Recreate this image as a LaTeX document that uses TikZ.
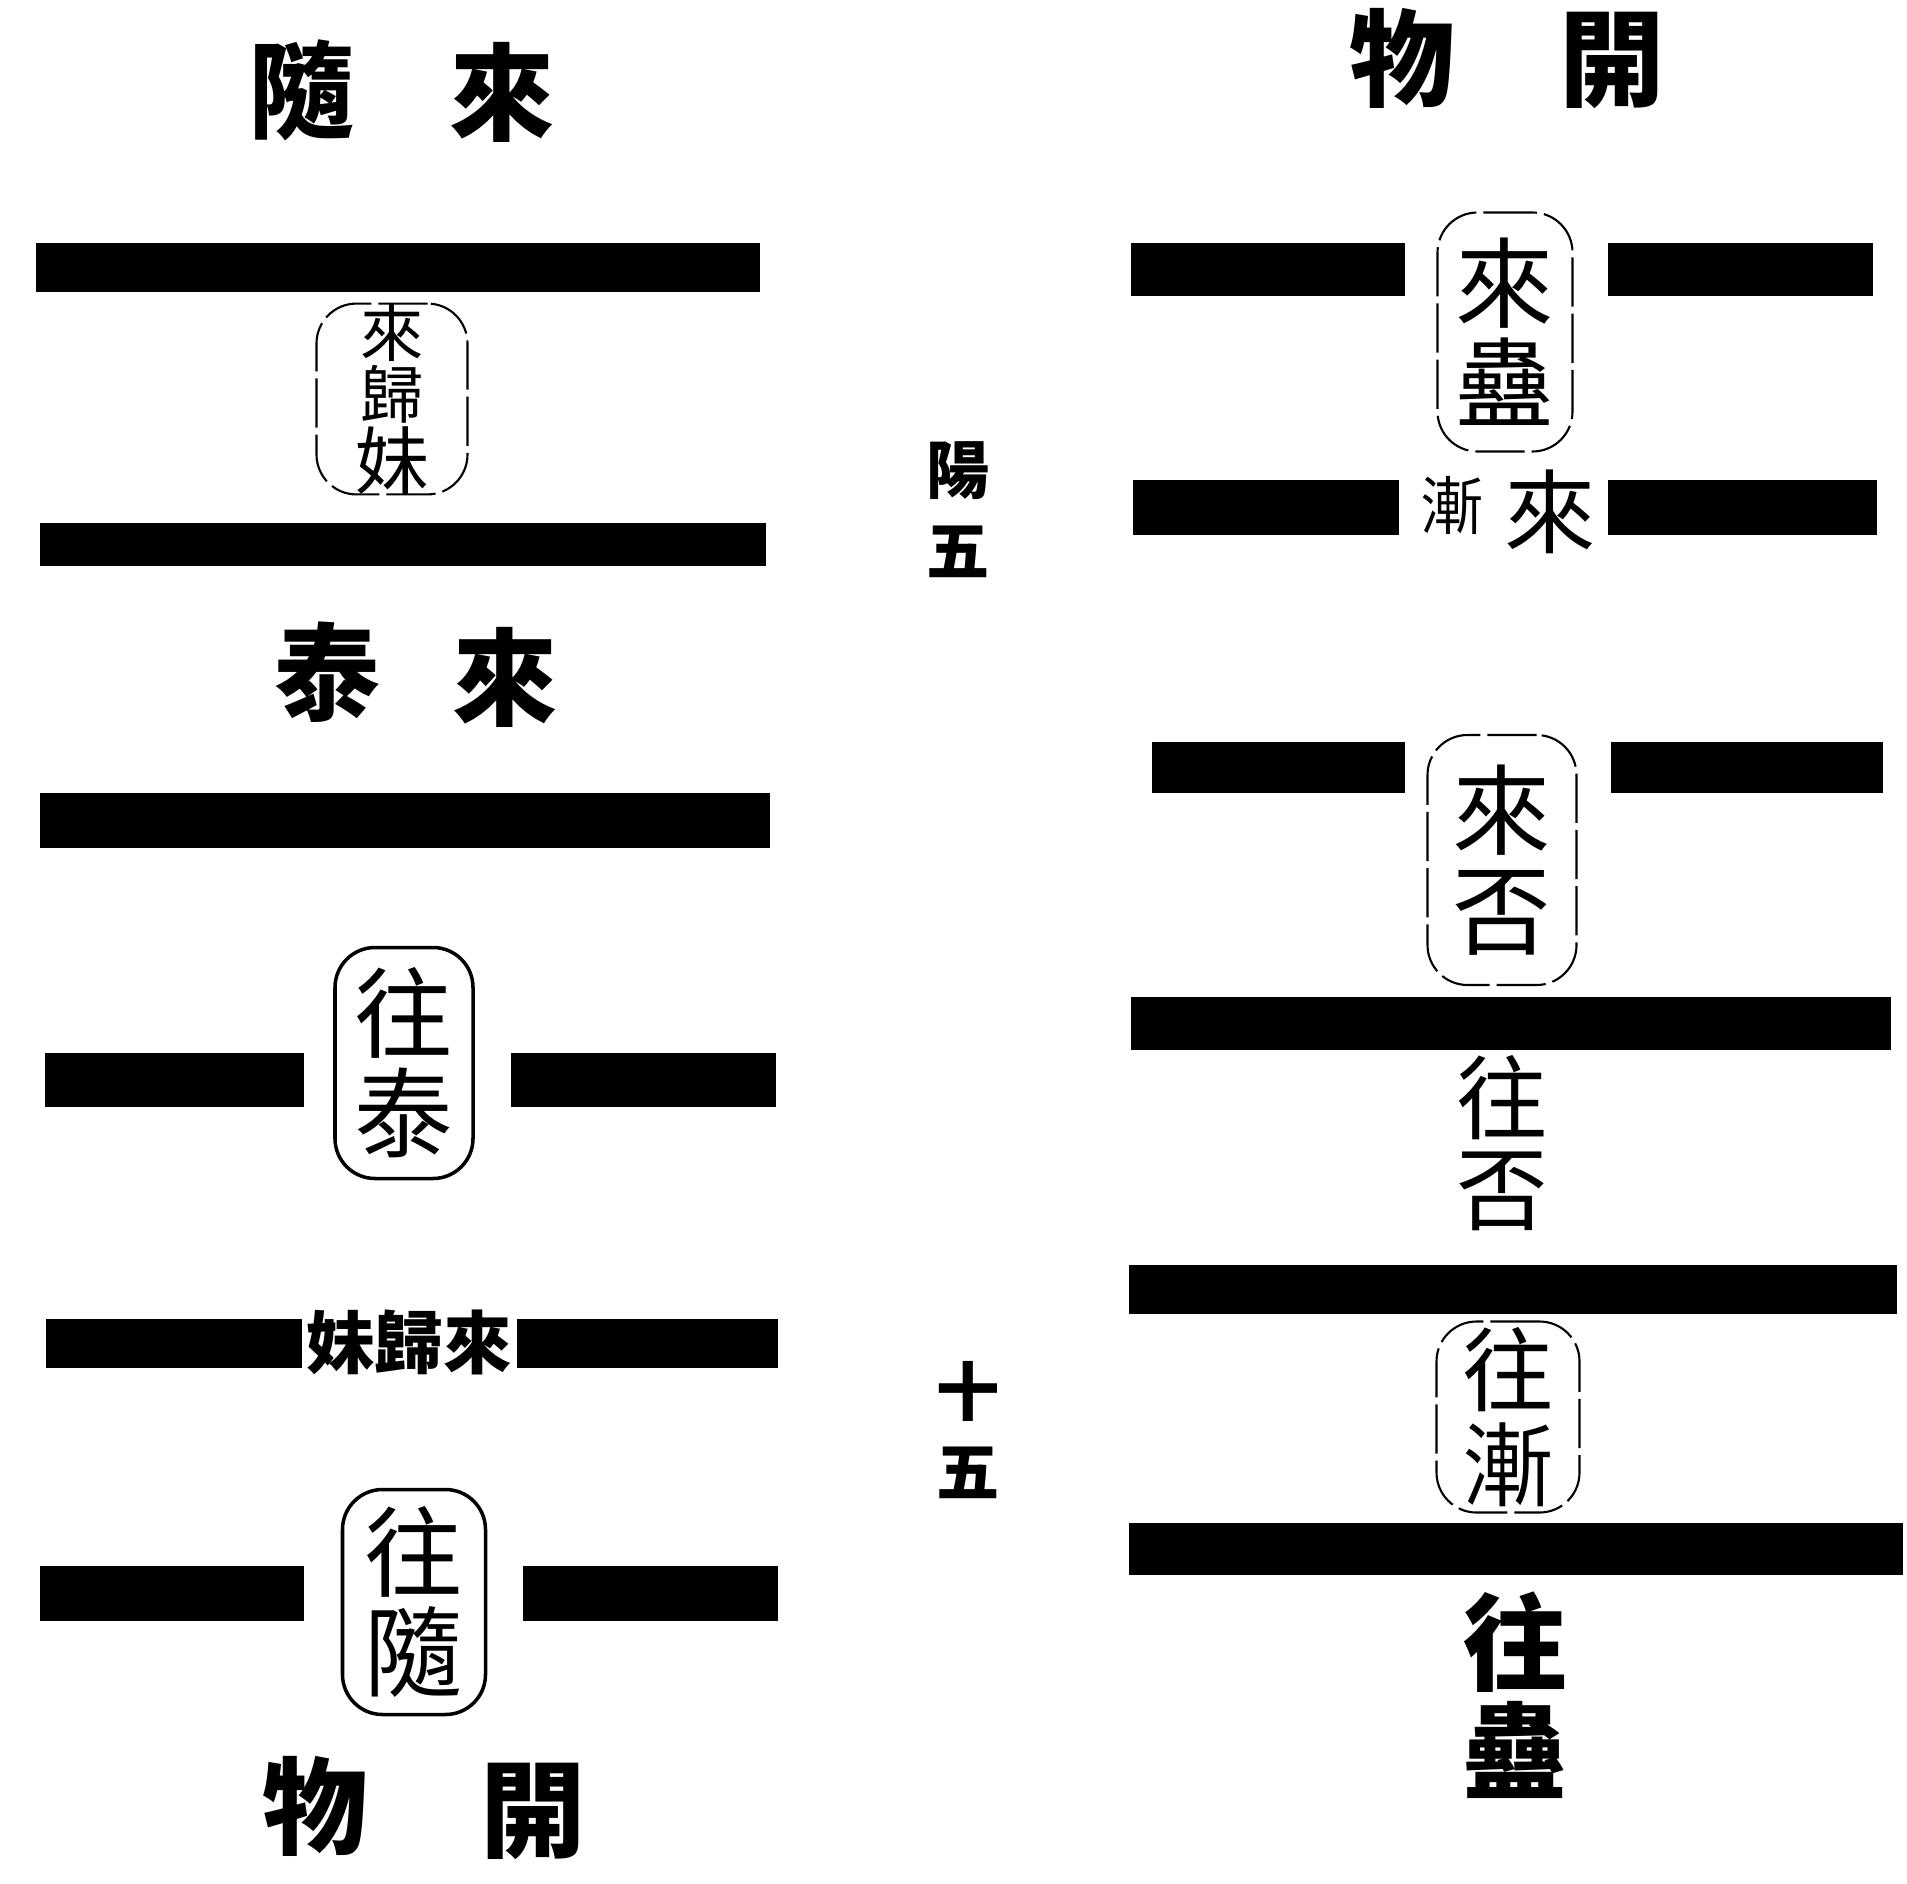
\documentclass[tikz,border=0pt]{standalone}
\usepackage{fontspec}
\newfontfamily\cjk{Noto Sans CJK TC}
\begin{document}
\begin{tikzpicture}[x=0.1mm, y=-0.1mm,
  bar/.style={fill=black},
  head/.style={inner sep=0pt, font=\cjk\bfseries\fontsize{30}{30}\selectfont},
  seal/.style={draw=black, line width=1pt, rounded corners=4mm, inner sep=0pt, align=center,
    font=\cjk\fontsize{28}{28.5}\selectfont},
  thinseal/.style={seal, line width=0.6pt, dash pattern=on 14pt off 2pt},
  stack/.style={inner sep=0pt, align=center, font=\cjk\fontsize{26}{26}\selectfont},
  small/.style={inner sep=0pt, align=center, font=\cjk\bfseries\fontsize{18}{23}\selectfont}]
\useasboundingbox (0,0) rectangle (1907,1884);
% left figure
\node[head] (sui) at (302,90) {隨};
\node[head] (laiA) at (502,92) {來};
\fill[bar] (36,243) rectangle (760,292);
\node[thinseal, minimum width=15.1mm, minimum height=18.8mm,
  font=\cjk\fontsize{18}{17.6}\selectfont] (guimei) at (392,399) {來\\歸\\{\fontsize{21}{17.6}\selectfont 妹}};
\fill[bar] (40,523) rectangle (766,566);
\node[head] (tai) at (327,672) {泰};
\node[head] (laiB) at (505,677) {來};
\fill[bar] (40,793) rectangle (770,848);
\node[seal, minimum width=13.8mm, minimum height=23.1mm] (wangtai) at (404,1063) {往\\泰};
\fill[bar] (45,1053) rectangle (304,1107);
\fill[bar] (511,1053) rectangle (776,1107);
\fill[bar] (46,1319) rectangle (302,1368);
\fill[bar] (517,1319) rectangle (778,1368);
\node[small, font=\cjk\bfseries\fontsize{19.5}{20}\selectfont] (guimeiB) at (409,1342) {妹歸來};
\node[seal, minimum width=14.3mm, minimum height=22.5mm] (wangsui) at (414,1602) {往\\隨};
\fill[bar] (40,1566) rectangle (304,1621);
\fill[bar] (523,1566) rectangle (778,1621);
\node[head] (wuA) at (315,1806) {物};
\node[head] (kaiA) at (533,1811) {開};
% middle column
\node[small] (yangwu) at (958,510) {陽\\五};
\node[small] (shiwu) at (968,1430) {十\\五};
% right figure
\node[head] (wuB) at (1402,58) {物};
\node[head] (kaiB) at (1612,60) {開};
\fill[bar] (1131,243) rectangle (1405,296);
\fill[bar] (1608,243) rectangle (1873,296);
\node[thinseal, minimum width=13.5mm, minimum height=23.9mm] (laigu) at (1505,332) {來\\蠱};
\fill[bar] (1133,480) rectangle (1399,535);
\fill[bar] (1608,480) rectangle (1877,535);
\node[small, font=\cjk\fontsize{18}{18}\selectfont] (jian) at (1452,505) {漸};
\node[small, font=\cjk\fontsize{26}{26}\selectfont] (laiC) at (1550,512) {來};
\fill[bar] (1152,742) rectangle (1405,793);
\fill[bar] (1611,742) rectangle (1883,793);
\node[thinseal, minimum width=14.9mm, minimum height=25mm] (laipi) at (1502,860) {來\\否};
\fill[bar] (1131,997) rectangle (1891,1050);
\node[stack] (wangpi) at (1502,1143) {往\\否};
\fill[bar] (1129,1265) rectangle (1897,1314);
\node[thinseal, minimum width=14.3mm, minimum height=19.1mm,
  font=\cjk\fontsize{26}{27}\selectfont] (wangjian) at (1508,1417) {往\\漸};
\fill[bar] (1129,1523) rectangle (1903,1575);
\node[stack, font=\cjk\bfseries\fontsize{30}{31}\selectfont] (wanggu) at (1515,1695) {往\\蠱};
\end{tikzpicture}
\end{document}
